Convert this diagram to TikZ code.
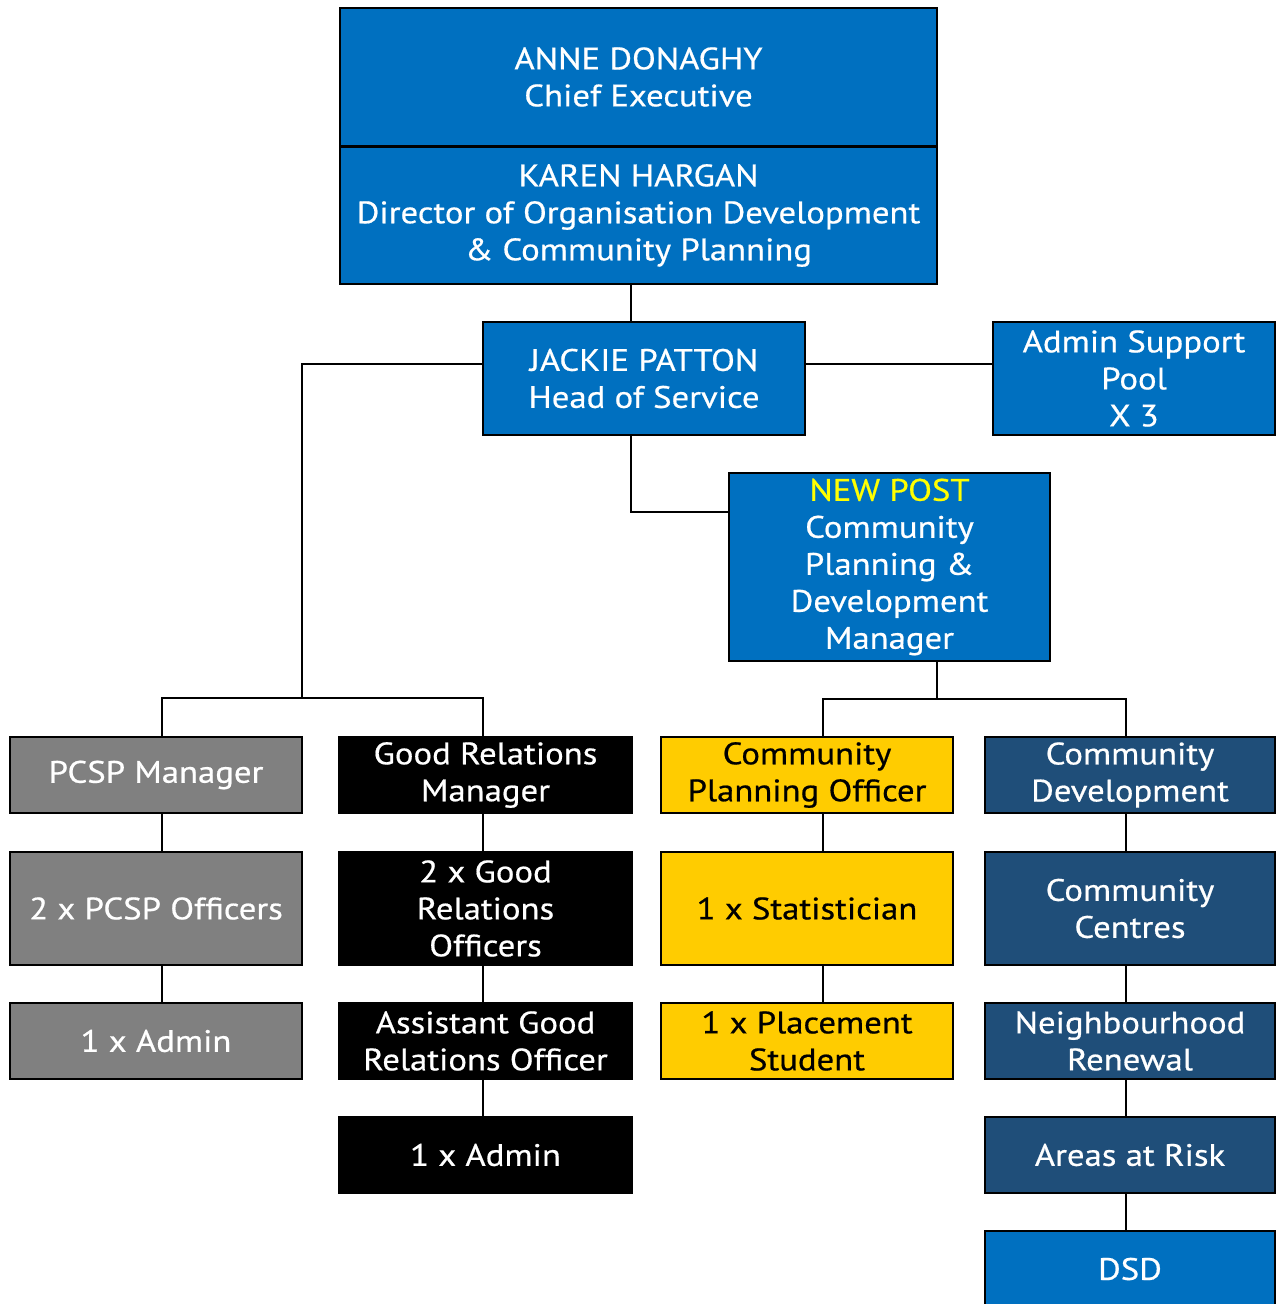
\documentclass[tikz,border=0pt]{standalone}
\usepackage{fontspec}
\setmainfont{PT Sans}[FakeStretch=1.12,FakeBold=0.6]
\definecolor{cblue}{HTML}{0070C0}
\definecolor{cgrey}{HTML}{808080}
\definecolor{cyel}{HTML}{FFCC00}
\definecolor{cnavy}{HTML}{1F4E79}
\definecolor{cnew}{HTML}{FFFF00}
\newcommand\fsz{\fontsize{31}{37}\selectfont}
\tikzset{
  box/.style={draw=black, line width=2pt, inner sep=0pt, align=center, text=white, font=\fsz},
  bluebox/.style={box, fill=cblue},
  greybox/.style={box, fill=cgrey},
  blackbox/.style={box, fill=black},
  yelbox/.style={box, fill=cyel, text=black},
  navybox/.style={box, fill=cnavy},
  conn/.style={draw=black, line width=2pt},
}
\begin{document}
\begin{tikzpicture}[x=1pt,y=-1pt]
\path[use as bounding box] (0,0) rectangle (1276,1304);
\clip (0,0) rectangle (1276,1304);
\fill[white] (0,0) rectangle (1276,1304);
% top
\node[bluebox, minimum width=597pt, minimum height=138pt] (anne) at (638.5,77) {ANNE DONAGHY\\Chief Executive};
\node[bluebox, minimum width=597pt, minimum height=137pt] (karen) at (638.5,215.5) {KAREN HARGAN\\Director of Organisation Development\\\& Community Planning};
\node[bluebox, minimum width=322pt, minimum height=113pt] (jackie) at (644,378.5) {JACKIE PATTON\\Head of Service};
\node[bluebox, minimum width=282pt, minimum height=113pt] (admin) at (1134,378.5) {Admin Support\\Pool\\X 3};
\node[bluebox, minimum width=321pt, minimum height=188pt] (newpost) at (889.5,567) {\textcolor{cnew}{NEW POST}\\Community\\Planning \&\\Development\\Manager};
% column A
\node[greybox, minimum width=292pt, minimum height=76pt] (pcsp) at (156,775) {PCSP Manager};
\node[greybox, minimum width=292pt, minimum height=113pt] (pcspo) at (156,908.5) {2 x PCSP Officers};
\node[greybox, minimum width=292pt, minimum height=76pt] (pcspa) at (156,1041) {1 x Admin};
% column B
\node[blackbox, minimum width=293pt, minimum height=76pt] (grm) at (485.5,775) {Good Relations\\Manager};
\node[blackbox, minimum width=293pt, minimum height=113pt] (gro) at (485.5,908.5) {2 x Good\\Relations\\Officers};
\node[blackbox, minimum width=293pt, minimum height=76pt] (agro) at (485.5,1041) {Assistant Good\\Relations Officer};
\node[blackbox, minimum width=293pt, minimum height=76pt] (gra) at (485.5,1155) {1 x Admin};
% column C
\node[yelbox, minimum width=292pt, minimum height=76pt] (cpo) at (807,775) {Community\\Planning Officer};
\node[yelbox, minimum width=292pt, minimum height=113pt] (stat) at (807,908.5) {1 x Statistician};
\node[yelbox, minimum width=292pt, minimum height=76pt] (plac) at (807,1041) {1 x Placement\\Student};
% column D
\node[navybox, minimum width=290pt, minimum height=76pt] (cd) at (1130,775) {Community\\Development};
\node[navybox, minimum width=290pt, minimum height=113pt] (cc) at (1130,908.5) {Community\\Centres};
\node[navybox, minimum width=290pt, minimum height=76pt] (nr) at (1130,1041) {Neighbourhood\\Renewal};
\node[navybox, minimum width=290pt, minimum height=76pt] (ar) at (1130,1155) {Areas at Risk};
\node[bluebox, minimum width=290pt, minimum height=76pt] (dsd) at (1130,1269) {DSD};
% guide coordinates
\coordinate (k1) at (631,0);
\coordinate (h1) at (0,364);
\coordinate (lbend) at (302,364);
\coordinate (lbar) at (302,698);
\coordinate (barL) at (0,698);
\coordinate (j2) at (0,512);
\coordinate (n1) at (937,0);
\coordinate (barR) at (0,699);
\coordinate (cA) at (162,0);
\coordinate (cB) at (483,0);
\coordinate (cC) at (823,0);
\coordinate (cD) at (1126,0);
% connectors
\draw[conn] (karen.south -| k1) -- (jackie.north -| k1);
\draw[conn] (jackie.east |- h1) -- (admin.west |- h1);
\draw[conn] (jackie.west |- h1) -- (lbend) -- (lbar);
\draw[conn] (pcsp.north -| cA) -- (barL -| cA) -- (barL -| cB) -- (grm.north -| cB);
\draw[conn] (jackie.south -| k1) -- (j2 -| k1) -- (newpost.west |- j2);
\draw[conn] (newpost.south -| n1) -- (barR -| n1);
\draw[conn] (cpo.north -| cC) -- (barR -| cC) -- (barR -| cD) -- (cd.north -| cD);
\draw[conn] (pcsp.south -| cA) -- (pcspo.north -| cA);
\draw[conn] (pcspo.south -| cA) -- (pcspa.north -| cA);
\draw[conn] (grm.south -| cB) -- (gro.north -| cB);
\draw[conn] (gro.south -| cB) -- (agro.north -| cB);
\draw[conn] (agro.south -| cB) -- (gra.north -| cB);
\draw[conn] (cpo.south -| cC) -- (stat.north -| cC);
\draw[conn] (stat.south -| cC) -- (plac.north -| cC);
\draw[conn] (cd.south -| cD) -- (cc.north -| cD);
\draw[conn] (cc.south -| cD) -- (nr.north -| cD);
\draw[conn] (nr.south -| cD) -- (ar.north -| cD);
\draw[conn] (ar.south -| cD) -- (dsd.north -| cD);
\end{tikzpicture}
\end{document}
